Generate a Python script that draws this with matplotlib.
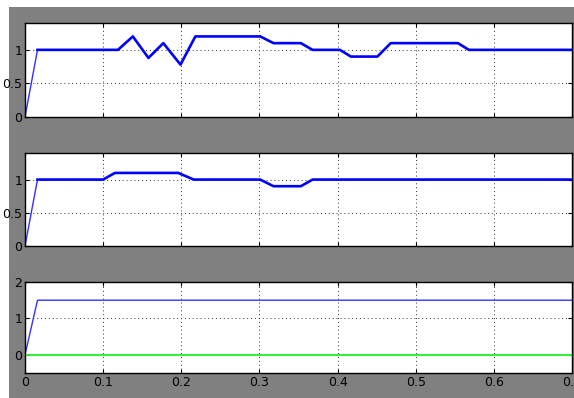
import numpy as np
import matplotlib
matplotlib.use("Agg")
import matplotlib.pyplot as plt
from matplotlib.patches import Rectangle

# signal 1 : reference with steps and triangles
t1 = [0, 0.016, 0.119, 0.138, 0.158, 0.177, 0.199, 0.218, 0.301, 0.318,
      0.353, 0.368, 0.403, 0.417, 0.451, 0.468, 0.554, 0.568, 0.7]
y1 = [0, 1.0, 1.0, 1.2, 0.88, 1.1, 0.78, 1.2, 1.2, 1.1,
      1.1, 1.0, 1.0, 0.9, 0.9, 1.1, 1.1, 1.0, 1.0]

# signal 2 : output
t2 = [0, 0.016, 0.1, 0.115, 0.196, 0.216, 0.301, 0.318, 0.353, 0.368, 0.7]
y2 = [0, 1.0, 1.0, 1.1, 1.1, 1.0, 1.0, 0.9, 0.9, 1.0, 1.0]

# signal 3 : command and error
t3 = [0, 0.016, 0.7]
y3_blue = [0, 1.5, 1.5]
y3_green = [0, 0, 0]

xticks = [0, 0.1, 0.2, 0.3, 0.4, 0.5, 0.6, 0.7]
xlabels = ["0", "0.1", "0.2", "0.3", "0.4", "0.5", "0.6", "0.7"]

plt.rcParams["font.family"] = ["Liberation Sans Narrow", "DejaVu Sans"]

W, H = 574, 398
fig = plt.figure(figsize=(W / 100, H / 100), dpi=100, facecolor="white")
fig.patches.append(Rectangle((9 / W, 0), 1, (H - 7) / H, transform=fig.transFigure,
                             facecolor="#808080", edgecolor="none", zorder=-10))


def make_ax(top, bottom):
    ax = fig.add_axes([25 / W, 1 - bottom / H, (572 - 25) / W, (bottom - top) / H])
    ax.set_facecolor("white")
    ax.set_xlim(0, 0.7)
    ax.set_xticks(xticks)
    ax.grid(True, color="#333333", linestyle=(0, (1, 3)), linewidth=0.7)
    ax.tick_params(direction="in", top=True, right=True, length=3,
                   labelsize=9, colors="black", pad=2)
    for s in ax.spines.values():
        s.set_linewidth(1.0)
    return ax


ax1 = make_ax(23, 117)
ax1.set_ylim(0, 1.4)
ax1.set_yticks([0, 0.5, 1])
ax1.set_yticklabels(["0", "0.5", "1"])
ax1.set_xticklabels([])
ax1.plot(t1[:2], y1[:2], color="#3030ff", lw=1.0)
ax1.plot(t1[1:], y1[1:], color="#0000ff", lw=1.9)

ax2 = make_ax(153, 246)
ax2.set_ylim(0, 1.4)
ax2.set_yticks([0, 0.5, 1])
ax2.set_yticklabels(["0", "0.5", "1"])
ax2.set_xticklabels([])
ax2.plot(t2[:2], y2[:2], color="#3030ff", lw=1.0)
ax2.plot(t2[1:], y2[1:], color="#0000ff", lw=1.9)

ax3 = make_ax(282, 373)
ax3.set_ylim(-0.5, 2)
ax3.set_yticks([0, 1, 2])
ax3.set_yticklabels(["0", "1", "2"])
ax3.set_xticklabels(xlabels)
ax3.plot(t3, y3_blue, color="#3333ff", lw=1.0)
ax3.plot(t3, y3_green, color="#33ee33", lw=1.4)

plt.savefig("out.png", dpi=100, facecolor=fig.get_facecolor())
